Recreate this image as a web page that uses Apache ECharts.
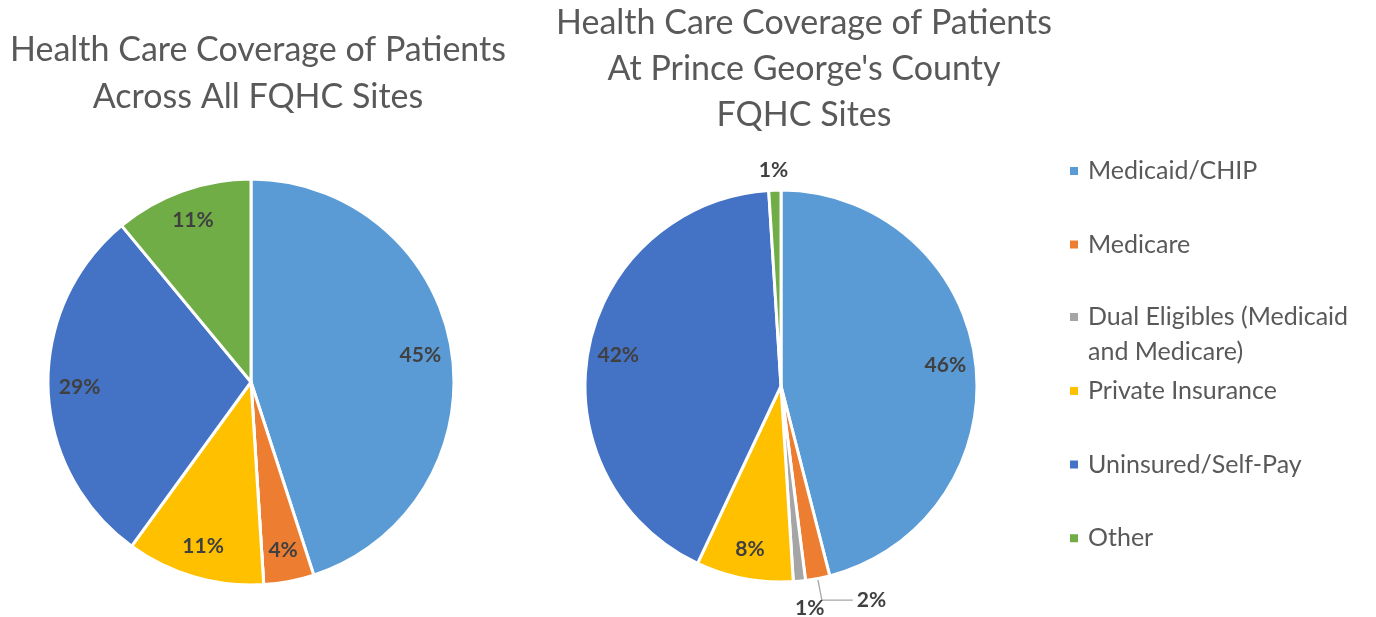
<!DOCTYPE html>
<html>
<head>
<meta charset="utf-8">
<script src="https://cdn.jsdelivr.net/npm/echarts@6/dist/echarts.min.js"></script>
<style>
html,body{margin:0;padding:0;background:#fff;}
#chart{width:1376px;height:617px;}
</style>
</head>
<body>
<div id="chart"></div>
<script>
const categories = ['Medicaid/CHIP', 'Medicare', 'Dual Eligibles (Medicaid and Medicare)', 'Private Insurance', 'Uninsured/Self-Pay', 'Other'];
const colors = ['#5B9BD5', '#ED7D31', '#A5A5A5', '#FFC000', '#4472C4', '#70AD47'];
const allSitesValues = [45, 4, 0, 11, 29, 11];
const princeGeorgesValues = [46, 2, 1, 8, 42, 1];
const leftTitle = 'Health Care Coverage of Patients\nAcross All FQHC Sites';
const rightTitle = "Health Care Coverage of Patients\nAt Prince George's County\nFQHC Sites";

const FONT = 'Lato, Carlito, Calibri, sans-serif';
const TEXT = '#595959';
const LABEL = '#404040';

const LEFT_C = [251, 382], LEFT_R = 203;
const RIGHT_C = [781, 386], RIGHT_R = 196;

function baseData(values) {
  return categories.map((n, i) => ({ name: n, value: values[i], itemStyle: { color: colors[i] } }));
}
function labelData(values, outside) {
  return categories.map((n, i) => {
    const d = { name: n, value: values[i], itemStyle: { color: 'rgba(0,0,0,0)' } };
    if (values[i] === 0) d.label = { show: false };
    if (outside && outside[i]) {
      d.label = Object.assign({ position: 'outside' }, outside[i].label);
      d.labelLine = outside[i].labelLine;
    }
    return d;
  });
}
const labelStyle = { show: true, position: 'inside', formatter: '{c}%', fontFamily: FONT, fontWeight: 'bold', fontSize: 21, color: LABEL };

function pieSeries(center, r, values) {
  return {
    type: 'pie', center: center, radius: [0, r], startAngle: 90, clockwise: true,
    label: { show: false }, labelLine: { show: false }, silent: true,
    itemStyle: { borderColor: '#fff', borderWidth: 3 },
    data: baseData(values)
  };
}
function labelSeries(center, r, values, outside) {
  return {
    type: 'pie', center: center, radius: [r * 0.66, r], startAngle: 90, clockwise: true,
    avoidLabelOverlap: false, silent: true,
    label: labelStyle,
    labelLine: { show: false },
    itemStyle: { borderWidth: 0 },
    data: labelData(values, outside)
  };
}

const rightOutside = {
  1: { label: { distanceToLabelLine: 4 }, labelLine: { show: true, length: 22, length2: 31, lineStyle: { color: '#a6a6a6', width: 1.3 } } },
  2: { label: { distanceToLabelLine: -7 }, labelLine: { show: false, length: 27, length2: 0 } },
  5: { label: { distanceToLabelLine: -14 }, labelLine: { show: false, length: 20, length2: 0 } }
};

const CLEAR = 'rgba(255,255,255,0)';
const legendRich = {
  n: { fontFamily: FONT, fontSize: 25, color: TEXT, height: 73.6, lineHeight: 73.6, padding: [0, 0, 0, 4], backgroundColor: CLEAR },
  e: { fontSize: 1, height: 35, lineHeight: 35, backgroundColor: CLEAR },
  d: { fontFamily: FONT, fontSize: 25, color: TEXT, height: 35, lineHeight: 35, padding: [0, 0, 0, 4], backgroundColor: CLEAR }
};
function legendFormatter(name) {
  if (name === categories[2]) return '{e| }\n{d|Dual Eligibles (Medicaid}\n{d|and Medicare)}';
  return '{n|' + name + '}';
}
function makeLegend(names, top) {
  return {
    orient: 'vertical', left: 1068, top: top, padding: 0, itemGap: 0,
    itemWidth: 10, itemHeight: 10, icon: 'rect', selectedMode: false,
    data: names.map(n => ({ name: n, itemStyle: { color: colors[categories.indexOf(n)] } })),
    formatter: legendFormatter,
    textStyle: { rich: legendRich }
  };
}

const chart = echarts.init(document.getElementById('chart'), null, { renderer: 'canvas' });
chart.setOption({
  backgroundColor: '#fff',
  animation: false,
  title: [
    { text: leftTitle, left: 258, top: 27, textAlign: 'center', padding: 0,
      textStyle: { fontFamily: FONT, fontSize: 34, fontWeight: 'normal', color: TEXT, lineHeight: 47 } },
    { text: rightTitle, left: 804, top: 0, textAlign: 'center', padding: 0,
      textStyle: { fontFamily: FONT, fontSize: 34, fontWeight: 'normal', color: TEXT, lineHeight: 46 } }
  ],
  legend: [
    makeLegend(categories.slice(0, 2), 134.2),
    makeLegend([categories[2]], 264.5),
    makeLegend(categories.slice(3), 354.2)
  ],
  series: [
    pieSeries(LEFT_C, LEFT_R, allSitesValues),
    labelSeries(LEFT_C, LEFT_R, allSitesValues, null),
    pieSeries(RIGHT_C, RIGHT_R, princeGeorgesValues),
    labelSeries(RIGHT_C, RIGHT_R, princeGeorgesValues, rightOutside)
  ]
});
</script>
</body>
</html>
